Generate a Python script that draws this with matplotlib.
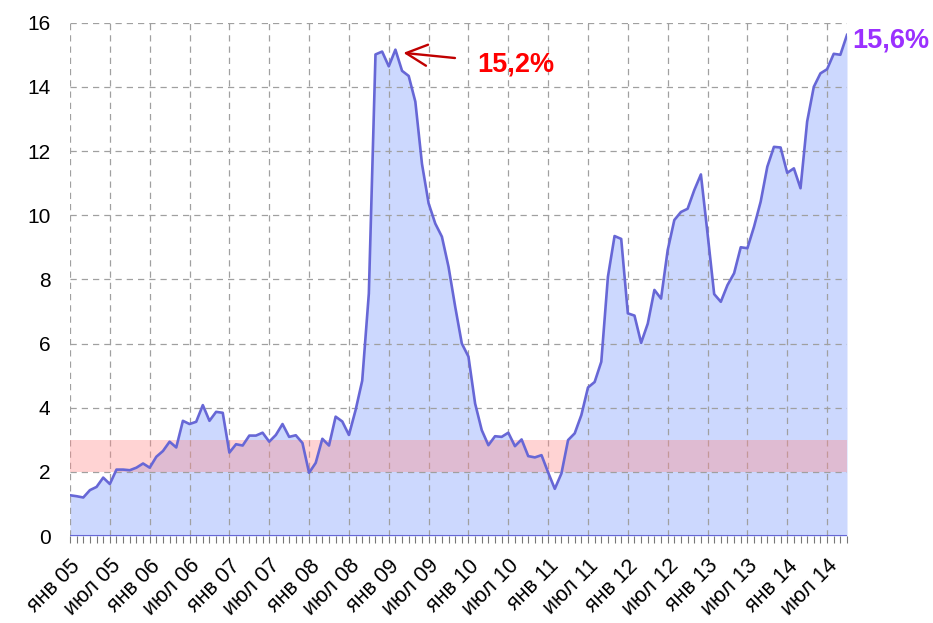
import matplotlib
matplotlib.use("Agg")
import matplotlib.pyplot as plt
from matplotlib.ticker import MultipleLocator

plt.rcParams['font.family'] = ['Liberation Sans', 'DejaVu Sans']

# Monthly values, Jan 2005 .. Oct 2014 (%)
values = [
    1.27, 1.24, 1.20, 1.43, 1.53, 1.82, 1.62, 2.07, 2.07, 2.05, 2.13, 2.26,   # 2005
    2.13, 2.47, 2.65, 2.94, 2.76, 3.59, 3.49, 3.56, 4.08, 3.59, 3.87, 3.84,   # 2006
    2.60, 2.86, 2.82, 3.13, 3.13, 3.22, 2.94, 3.15, 3.49, 3.09, 3.14, 2.90,   # 2007
    1.97, 2.28, 3.03, 2.82, 3.72, 3.57, 3.15, 3.92, 4.84, 7.56, 15.01, 15.10, # 2008
    14.64, 15.16, 14.50, 14.34, 13.54, 11.60, 10.37, 9.74, 9.33, 8.39, 7.15, 6.00,  # 2009
    5.59, 4.13, 3.30, 2.83, 3.11, 3.09, 3.22, 2.80, 3.01, 2.49, 2.45, 2.52,   # 2010
    1.98, 1.47, 1.95, 2.99, 3.20, 3.77, 4.63, 4.80, 5.43, 8.08, 9.35, 9.26,   # 2011
    6.94, 6.87, 6.02, 6.62, 7.67, 7.40, 8.91, 9.85, 10.10, 10.20, 10.78, 11.27,  # 2012
    9.43, 7.54, 7.30, 7.82, 8.19, 9.00, 8.97, 9.64, 10.42, 11.51, 12.13, 12.11,  # 2013
    11.32, 11.46, 10.84, 12.92, 14.00, 14.42, 14.55, 15.03, 15.00, 15.62,      # 2014
]
tick_labels = ["янв 05", "июл 05", "янв 06", "июл 06", "янв 07", "июл 07",
               "янв 08", "июл 08", "янв 09", "июл 09", "янв 10", "июл 10",
               "янв 11", "июл 11", "янв 12", "июл 12", "янв 13", "июл 13",
               "янв 14", "июл 14"]
target_low, target_high = 2.0, 3.0
peak_label = "15,2%"
last_label = "15,6%"

months = list(range(len(values)))
# crisis peak (2008-2009)
peak_idx = max(range(0, 60), key=lambda i: values[i])
last_idx = len(values) - 1

fig = plt.figure(figsize=(9.33, 6.23), dpi=100)
ax = fig.add_axes([70/933, 1 - 536/623, (847-70)/933, (536-22.7)/623])

line_color = "#6767d6"
fill_color = "#ccd8fe"

ax.fill_between(months, values, 0, color=fill_color, zorder=1, linewidth=0)
ax.axhspan(target_low, target_high, color="#ff8c8c", alpha=0.38, linewidth=0, zorder=2)
ax.plot(months, values, color=line_color, linewidth=1.9, zorder=3, solid_joinstyle='round')
ax.axhline(0, color=line_color, linewidth=1.5, zorder=3)

ax.set_xlim(0, last_idx)
ax.set_ylim(0, 16)
ax.yaxis.set_major_locator(MultipleLocator(2))
ax.set_xticks(range(0, 6*len(tick_labels), 6))
ax.set_xticklabels(tick_labels, rotation=45, ha='right', va='top',
                   rotation_mode='anchor', fontsize=15.5)
ax.xaxis.set_minor_locator(MultipleLocator(1))
ax.tick_params(axis='x', which='both', direction='out', color='#777777',
               length=5, width=0.8, pad=9)
ax.tick_params(axis='y', which='both', length=0, labelsize=15, pad=14)

ax.grid(True, which='major', color='#a0a0a0', linestyle=(0, (5, 4)), linewidth=0.9, zorder=0)
for sp in ax.spines.values():
    sp.set_visible(False)
for gl in ax.get_xgridlines() + ax.get_ygridlines():
    gl.set_zorder(2.5)

ax.annotate(peak_label, xy=(peak_idx + 1.2, values[peak_idx] - 0.1),
            xytext=(peak_idx + 12.3, values[peak_idx] - 0.45),
            color="#ff0000", fontsize=19.5, fontweight='bold',
            ha='left', va='center',
            arrowprops=dict(arrowstyle='->', color='#c00000', lw=1.7,
                            mutation_scale=38, shrinkA=14, shrinkB=0),
            zorder=5)
ax.annotate(last_label, xy=(last_idx, values[last_idx]),
            xytext=(4, -4), textcoords='offset points',
            color="#9b30ff", fontsize=19.5, fontweight='bold',
            ha='left', va='center', annotation_clip=False, zorder=5)

fig.savefig("out.png", dpi=100)
